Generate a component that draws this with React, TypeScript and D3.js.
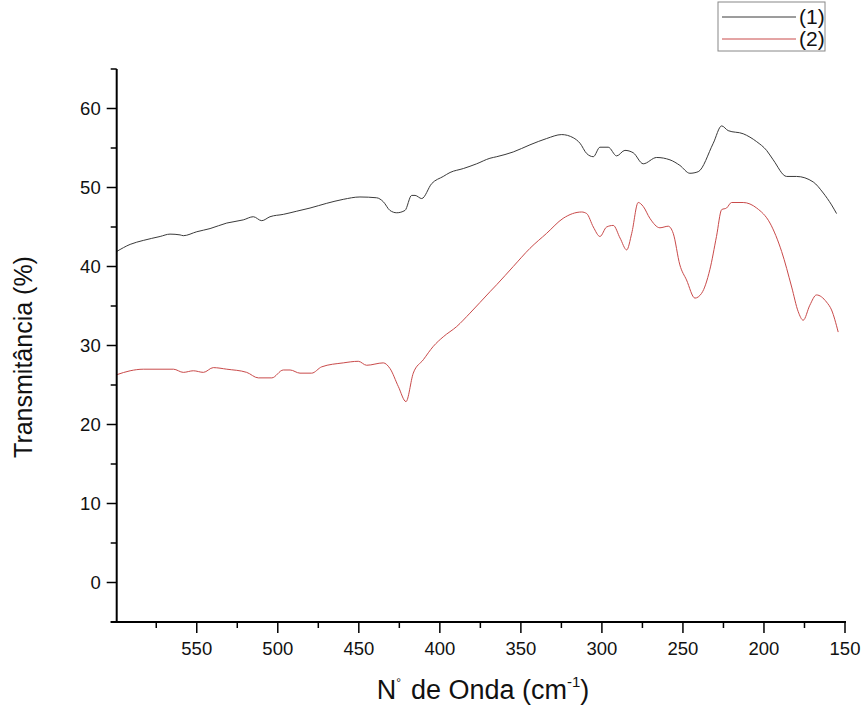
import React from "react";
import * as d3 from "d3";

const seriesNames = ["(1)", "(2)"];

const wave1 = [599.4, 591.1, 583.0, 572.6, 566.5, 560.3, 558.3, 550.0, 541.8, 531.5, 521.3, 515.1, 509.9, 504.8, 496.6, 488.3, 480.1, 469.8, 459.6, 449.3, 439.0, 434.9, 430.8, 426.6, 421.5, 417.4, 415.3, 411.2, 405.0, 397.9, 393.7, 385.5, 377.3, 369.1, 364.9, 354.7, 344.4, 334.1, 324.8, 317.7, 313.5, 309.4, 305.3, 301.2, 296.1, 290.9, 285.8, 280.7, 274.5, 266.2, 258.0, 251.9, 245.7, 240.6, 231.3, 226.1, 222.1, 212.8, 204.5, 198.4, 194.3, 186.0, 179.9, 169.6, 163.4, 158.3, 155.2];
const trans1 = [41.9, 42.8, 43.3, 43.8, 44.1, 44.0, 43.9, 44.4, 44.8, 45.5, 45.9, 46.3, 45.8, 46.3, 46.6, 47.0, 47.4, 48.0, 48.5, 48.8, 48.7, 48.2, 47.1, 46.8, 47.1, 49.0, 49.0, 48.6, 50.5, 51.4, 51.9, 52.4, 53.0, 53.7, 53.9, 54.5, 55.4, 56.2, 56.7, 56.3, 55.6, 54.3, 53.9, 55.1, 55.1, 54.0, 54.7, 54.4, 53.0, 53.8, 53.5, 52.8, 51.8, 52.0, 55.6, 57.8, 57.2, 56.8, 55.8, 54.7, 53.5, 51.4, 51.4, 50.7, 49.3, 47.8, 46.7];

const wave2 = [599.4, 591.1, 583.0, 564.4, 558.3, 552.1, 545.9, 539.8, 531.5, 519.2, 512.0, 503.7, 496.6, 492.4, 486.3, 479.1, 472.9, 459.6, 450.3, 445.2, 434.9, 430.8, 425.6, 420.9, 416.4, 410.2, 404.0, 397.9, 389.6, 381.4, 369.1, 364.9, 354.7, 344.4, 334.1, 323.9, 312.5, 309.4, 305.3, 301.2, 297.1, 293.0, 288.8, 284.7, 281.6, 277.6, 274.5, 270.4, 264.2, 259.1, 256.0, 251.9, 247.8, 242.6, 238.5, 233.4, 229.3, 226.1, 223.1, 220.0, 212.8, 204.5, 196.3, 189.1, 182.9, 178.9, 175.8, 171.7, 167.6, 161.4, 158.3, 154.2];
const trans2 = [26.3, 26.8, 27.0, 27.0, 26.6, 26.8, 26.6, 27.2, 27.0, 26.6, 25.9, 25.9, 26.9, 26.9, 26.5, 26.5, 27.3, 27.8, 28.0, 27.5, 27.8, 27.1, 24.8, 22.9, 26.5, 28.2, 29.9, 31.1, 32.4, 34.1, 36.8, 37.7, 40.0, 42.3, 44.2, 46.1, 46.9, 46.7, 45.0, 43.8, 45.0, 45.2, 43.6, 42.1, 44.2, 48.1, 47.6, 46.1, 44.9, 45.1, 44.2, 40.2, 38.3, 36.0, 36.6, 39.6, 43.8, 47.2, 47.4, 48.1, 48.1, 47.4, 45.5, 41.9, 37.4, 34.3, 33.2, 35.1, 36.4, 35.5, 34.5, 31.7];

const xMajorTicks = [550, 500, 450, 400, 350, 300, 250, 200, 150];
const xMinorTicks = [575, 525, 475, 425, 375, 325, 275, 225, 175];
const yMajorTicks = [0, 10, 20, 30, 40, 50, 60];
const yMinorTicks = [-5, 5, 15, 25, 35, 45, 55, 65];

const colors = ["#3a3a3a", "#c94a4a"];

export default function App() {
  const W = 865, H = 712;
  const left = 116.7, right = 845, top = 69, bottom = 622;
  const x = d3.scaleLinear().domain([599.4, 150]).range([left, right]);
  const y = d3.scaleLinear().domain([-5, 65]).range([bottom, top]);
  const line = d3
    .line<[number, number]>()
    .x((d) => x(d[0]))
    .y((d) => y(d[1]))
    .curve(d3.curveMonotoneX);
  const s1 = wave1.map((w, i) => [w, trans1[i]] as [number, number]);
  const s2 = wave2.map((w, i) => [w, trans2[i]] as [number, number]);
  const font = "Arial, 'Liberation Sans', Helvetica, sans-serif";

  return (
    <div style={{ position: "fixed", left: 0, top: 0 }}>
      <svg width={W} height={H} style={{ display: "block", background: "#fff" }}>
        <rect x={0} y={0} width={W} height={H} fill="#fff" />
        {/* curves */}
        <path d={line(s1) || ""} fill="none" stroke={colors[0]} strokeWidth={1} />
        <path d={line(s2) || ""} fill="none" stroke={colors[1]} strokeWidth={1} />

        {/* axes */}
        <line x1={left} x2={left} y1={top} y2={bottom} stroke="#000" strokeWidth={2} />
        <line x1={left - 6} x2={right + 1} y1={bottom} y2={bottom} stroke="#000" strokeWidth={2} />

        {yMajorTicks.map((t) => (
          <g key={"ym" + t}>
            <line x1={left - 10} x2={left} y1={y(t)} y2={y(t)} stroke="#000" strokeWidth={1.5} />
            <text x={left - 16} y={y(t)} dy="0.35em" textAnchor="end" fontFamily={font} fontSize={18.5} fill="#111">
              {t}
            </text>
          </g>
        ))}
        {yMinorTicks.map((t) => (
          <line key={"yn" + t} x1={left - 6} x2={left} y1={y(t)} y2={y(t)} stroke="#000" strokeWidth={1.5} />
        ))}
        {xMajorTicks.map((t) => (
          <g key={"xm" + t}>
            <line x1={x(t)} x2={x(t)} y1={bottom} y2={bottom + 11} stroke="#000" strokeWidth={1.5} />
            <text x={x(t)} y={bottom + 33} textAnchor="middle" fontFamily={font} fontSize={18.5} fill="#111">
              {t}
            </text>
          </g>
        ))}
        {xMinorTicks.map((t) => (
          <line key={"xn" + t} x1={x(t)} x2={x(t)} y1={bottom} y2={bottom + 6} stroke="#000" strokeWidth={1.5} />
        ))}

        {/* axis titles */}
        <text x={483} y={699} textAnchor="middle" fontFamily={font} fontSize={27} fill="#111">
          <tspan>N</tspan>
          <tspan fontSize={12} dy={-12}>°</tspan>
          <tspan dy={12} dx={10}>de Onda (cm</tspan>
          <tspan fontSize={15} dy={-12}>-1</tspan>
          <tspan dy={12}>)</tspan>
        </text>
        <text
          transform={`translate(32, 357) rotate(-90)`}
          textAnchor="middle"
          fontFamily={font}
          fontSize={25}
          fill="#111"
        >
          Transmitância (%)
        </text>

        {/* legend */}
        <rect x={718} y={2} width={107} height={49} fill="#fff" stroke="#888" strokeWidth={1} />
        {seriesNames.map((n, i) => (
          <g key={n}>
            <line x1={722} x2={796} y1={17 + i * 22} y2={17 + i * 22} stroke={colors[i]} strokeWidth={1} />
            <text x={799} y={17 + i * 22} dy="0.35em" fontFamily={font} fontSize={21} fill="#111">
              {n}
            </text>
          </g>
        ))}
      </svg>
    </div>
  );
}
